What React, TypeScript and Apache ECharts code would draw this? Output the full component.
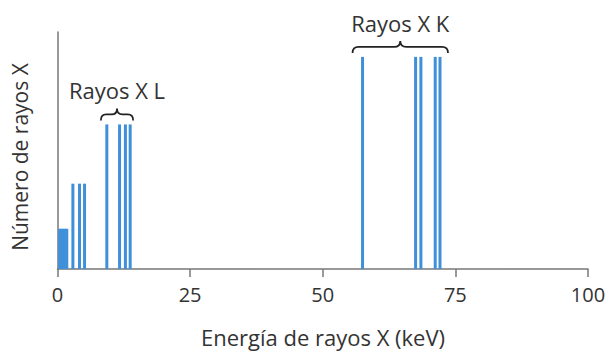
import React, { useEffect, useRef } from "react";
import * as echarts from "echarts";

// X-ray emission lines (energy in keV) and their relative counts
const energies = [0.4, 0.85, 1.3, 1.75, 2.9, 4.15, 5.1, 9.3, 11.7, 12.8, 13.7, 57.5, 67.5, 68.5, 71.2, 72.1];
const counts = [17, 17, 17, 17, 36, 36, 36, 61, 61, 61, 61, 89.5, 89.5, 89.5, 89.5, 89.5];
const lineGroups = ["", "", "", "", "", "", "", "L", "L", "L", "L", "K", "K", "K", "K", "K"];
const xTicks = [0, 25, 50, 75, 100];
const groupLabels: Record<string, string> = { L: "Rayos X L", K: "Rayos X K" };
const xTitle = "Energía de rayos X (keV)";
const yTitle = "Número de rayos X";

const FONT = "'Open Sans', sans-serif";
const LINE_COLOR = "#3f90d9";
const TEXT_COLOR = "#333";
const AXIS_COLOR = "#777";

function bracePath(w: number, h: number) {
  const m = h / 2;
  const c = w / 2;
  const r = Math.min(6, w / 6);
  return `M0 ${h} Q0 ${m} ${r} ${m} L${c - r} ${m} Q${c} ${m} ${c} 0 Q${c} ${m} ${c + r} ${m} L${w - r} ${m} Q${w} ${m} ${w} ${h}`;
}

export default function App() {
  const ref = useRef<HTMLDivElement>(null);
  useEffect(() => {
    if (!ref.current) return;
    const chart = echarts.init(ref.current, undefined, { renderer: "svg" });
    const data = energies.map((e, i) => [e, counts[i]]);
    chart.setOption({
      animation: false,
      grid: { left: 57.5, right: 27, top: 32, bottom: 85 },
      xAxis: {
        type: "value",
        min: 0,
        max: 100,
        interval: 25,
        splitLine: { show: false },
        axisLine: { show: true, lineStyle: { color: AXIS_COLOR, width: 1.5 } },
        axisTick: { show: true, length: 8, lineStyle: { color: AXIS_COLOR, width: 1.5 } },
        axisLabel: {
          color: TEXT_COLOR,
          fontSize: 20,
          fontFamily: FONT,
          margin: 15,
          customValues: xTicks,
        },
      },
      yAxis: {
        type: "value",
        min: 0,
        max: 100,
        splitLine: { show: false },
        axisLine: { show: true, lineStyle: { color: AXIS_COLOR, width: 1.5 } },
        axisTick: { show: false },
        axisLabel: { show: false },
      },
      series: [
        {
          type: "custom",
          data,
          encode: { x: 0, y: 1 },
          renderItem: (params: any, api: any) => {
            const x = api.value(0);
            const y = api.value(1);
            const top = api.coord([x, y]);
            const bot = api.coord([x, 0]);
            return {
              type: "rect",
              shape: { x: top[0] - 1.5, y: top[1], width: 3, height: bot[1] - top[1] },
              style: { fill: LINE_COLOR },
            };
          },
        },
      ],
    });

    // braces and labels
    const graphics: any[] = [];
    const pads: Record<string, [number, number]> = { L: [6, 3], K: [10, 8] };
    Object.keys(groupLabels).forEach((g) => {
      const idx = lineGroups.map((v, i) => (v === g ? i : -1)).filter((i) => i >= 0);
      const es = idx.map((i) => energies[i]);
      const top = Math.max(...idx.map((i) => counts[i]));
      const pMin = chart.convertToPixel({ gridIndex: 0 }, [Math.min(...es), top]) as number[];
      const pMax = chart.convertToPixel({ gridIndex: 0 }, [Math.max(...es), top]) as number[];
      const x0 = pMin[0] - pads[g][0];
      const x1 = pMax[0] + pads[g][1];
      const h = 12;
      const yTop = pMin[1] - 4 - h;
      const name = "brace" + g;
      echarts.graphic.registerShape(name, echarts.graphic.extendPath(bracePath(x1 - x0, h), {}) as any);
      graphics.push({
        type: name,
        x: x0,
        y: yTop,
        shape: {},
        style: { stroke: "#222", fill: "none", lineWidth: 1.8 },
      });
      graphics.push({
        type: "text",
        x: (x0 + x1) / 2,
        y: yTop - 18,
        style: {
          text: groupLabels[g],
          fill: TEXT_COLOR,
          font: `22px ${FONT}`,
          textAlign: "center",
          textVerticalAlign: "middle",
        },
      });
    });
    graphics.push({
      type: "text",
      x: 323,
      y: 337,
      style: { text: xTitle, fill: TEXT_COLOR, font: `22px ${FONT}`, textAlign: "center", textVerticalAlign: "middle" },
    });
    graphics.push({
      type: "text",
      x: 20,
      y: 157,
      rotation: Math.PI / 2,
      style: { text: yTitle, fill: TEXT_COLOR, font: `21px ${FONT}`, textAlign: "center", textVerticalAlign: "middle" },
    });
    chart.setOption({ graphic: graphics });
    return () => chart.dispose();
  }, []);
  return <div ref={ref} style={{ width: 615, height: 354, position: "absolute", left: 0, top: 0 }} />;
}
